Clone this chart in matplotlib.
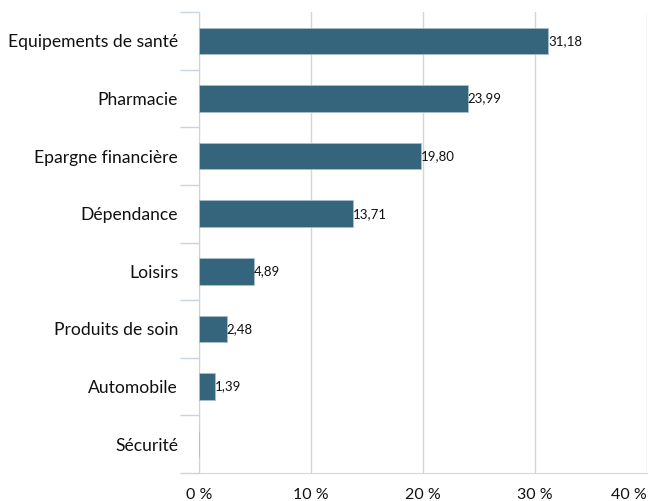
import numpy as np
import matplotlib.pyplot as plt

plt.rcParams['font.family'] = ['Lato', 'DejaVu Sans']

categories = ["Equipements de santé", "Pharmacie", "Epargne financière", "Dépendance",
              "Loisirs", "Produits de soin", "Automobile", "Sécurité"]
values = [31.18, 23.99, 19.80, 13.71, 4.89, 2.48, 1.39, 0.0]
labels = ["31,18", "23,99", "19,80", "13,71", "4,89", "2,48", "1,39", ""]
xticks = [0, 10, 20, 30, 40]

fig = plt.figure(figsize=(6.49, 5.01), dpi=100)
ax = fig.add_axes([0.3066, 0.0559, 0.6903, 0.9201])

y = np.arange(len(categories))
bars = ax.barh(y, values, height=0.46, color="#35647D", edgecolor="#a9bfcc", linewidth=0.6, zorder=3)
for b, lab in zip(bars, labels):
    if lab:
        ax.text(b.get_width(), b.get_y() + b.get_height() / 2, lab,
                va="center", ha="left", fontsize=9.5, color="#111111", zorder=4)

ax.set_xlim(0, 40)
ax.set_ylim(len(categories) - 0.5, -0.5)
ax.set_yticks(y)
ax.set_yticklabels(categories, fontsize=12.6, color="#111111")
ax.set_yticks(np.arange(-0.5, len(categories)), minor=True)
ax.tick_params(axis="y", which="major", length=0, pad=15)
ax.tick_params(axis="y", which="minor", length=14, width=1, color="#c9d3e6")

ax.set_xticks(xticks)
ax.set_xticklabels([f"{t} %" for t in xticks], fontsize=11.5, color="#111111")
ax.get_xticklabels()[-1].set_ha("right")
ax.tick_params(axis="x", length=0, pad=11)
ax.grid(axis="x", color="#d6d6d6", linewidth=1, zorder=0)

for s in ["top", "right"]:
    ax.spines[s].set_visible(False)
ax.spines["left"].set_color("#cfd2d8")
ax.spines["bottom"].set_color("#d6d6d6")

fig.savefig("out.png", dpi=100)
